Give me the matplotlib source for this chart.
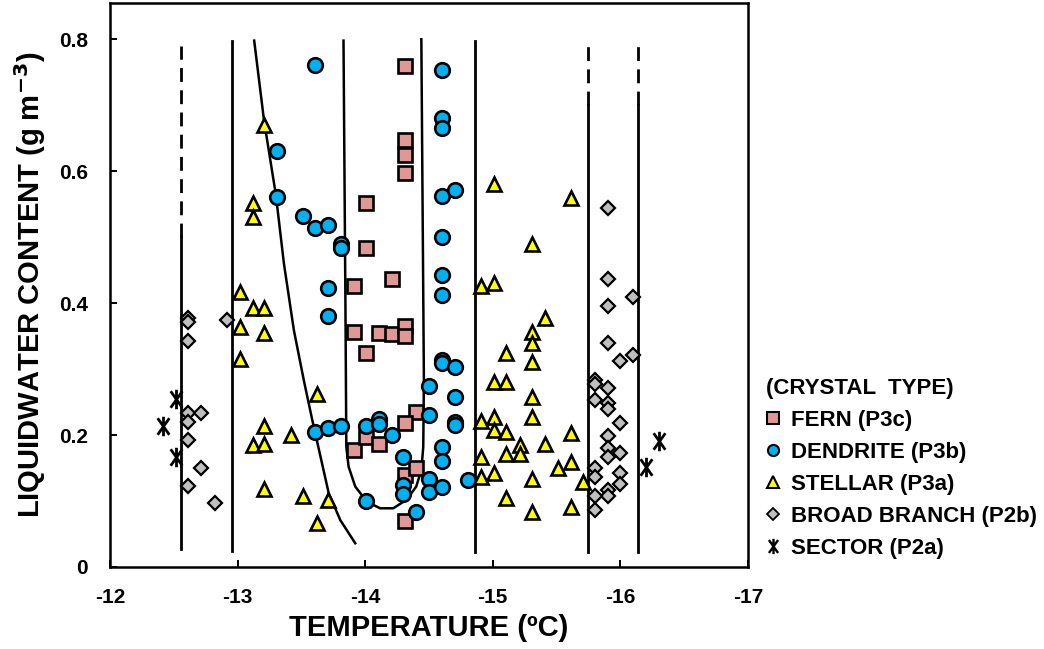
import matplotlib
matplotlib.use("Agg")
import matplotlib.pyplot as plt
import numpy as np
from matplotlib.path import Path
from matplotlib.lines import Line2D

plt.rcParams['font.family'] = ['Liberation Sans', 'DejaVu Sans']
plt.rcParams['font.weight'] = 'bold'

# ---- data (temperature in degC, LWC in g m^-3) ----
fern_t = [-14.31, -14.31, -14.31, -14.31, -14.01, -14.01, -13.91, -14.21,
          -13.91, -14.11, -14.21, -14.31, -14.31, -14.01, -14.40, -14.31,
          -13.91, -14.01, -14.11, -14.31, -14.40, -14.31]
fern_lwc = [0.759, 0.647, 0.625, 0.597, 0.552, 0.484, 0.426, 0.436,
            0.357, 0.355, 0.353, 0.365, 0.350, 0.325, 0.235, 0.218,
            0.177, 0.197, 0.187, 0.139, 0.150, 0.069]

dend_t = [-13.61, -14.60, -14.60, -14.60, -13.31, -13.31, -14.60, -14.70,
          -13.51, -13.61, -13.71, -13.81, -13.81, -14.60, -13.71, -14.60,
          -14.60, -13.71, -14.60, -14.60, -14.70, -14.50, -14.70, -14.50,
          -14.70, -14.70, -13.61, -13.71, -13.81, -14.01, -14.11, -14.11,
          -14.21, -14.01, -14.30, -14.30, -14.30, -14.40, -14.50, -14.50,
          -14.60, -14.60, -14.60, -14.805]
dend_lwc = [0.761, 0.754, 0.681, 0.665, 0.630, 0.561, 0.563, 0.572,
            0.532, 0.514, 0.519, 0.489, 0.484, 0.500, 0.423, 0.443,
            0.413, 0.380, 0.314, 0.309, 0.303, 0.274, 0.258, 0.230,
            0.220, 0.215, 0.205, 0.210, 0.214, 0.213, 0.225, 0.217,
            0.200, 0.100, 0.167, 0.124, 0.111, 0.083, 0.133, 0.113,
            0.182, 0.160, 0.122, 0.132]

stel_t = [-13.21, -13.12, -13.12, -13.02, -13.12, -13.21, -13.02, -13.21,
          -13.02, -13.62, -13.21, -13.12, -13.21, -13.415, -13.21, -13.51,
          -13.71, -13.62, -15.01, -15.61, -15.31, -14.91, -15.01, -15.41,
          -15.31, -15.31, -15.10, -15.31, -15.01, -15.10, -15.31, -15.31,
          -14.91, -15.01, -15.01, -15.10, -15.61, -15.21, -15.41, -15.10,
          -15.21, -14.91, -15.61, -15.51, -14.91, -15.01, -15.31, -15.71,
          -15.10, -15.61, -15.31]
stel_lwc = [0.670, 0.552, 0.531, 0.417, 0.393, 0.393, 0.364, 0.354,
            0.316, 0.262, 0.214, 0.185, 0.186, 0.200, 0.119, 0.108,
            0.101, 0.067, 0.581, 0.560, 0.490, 0.426, 0.431, 0.377,
            0.357, 0.339, 0.325, 0.311, 0.281, 0.281, 0.258, 0.228,
            0.222, 0.228, 0.207, 0.205, 0.203, 0.185, 0.187, 0.171,
            0.171, 0.167, 0.159, 0.150, 0.137, 0.142, 0.133, 0.129,
            0.104, 0.091, 0.084]

broad_t = [-12.615, -12.615, -12.615, -12.92, -12.615, -12.71, -12.615,
           -12.615, -12.71, -12.615, -12.82, -15.90, -15.90, -16.10,
           -15.90, -15.90, -16.00, -16.10, -15.80, -15.80, -15.90, -15.80,
           -15.90, -15.90, -16.00, -15.90, -15.90, -16.00, -15.90, -15.80,
           -15.80, -16.00, -16.00, -15.90, -15.90, -15.80, -15.80]
broad_lwc = [0.378, 0.372, 0.343, 0.374, 0.233, 0.233, 0.220,
             0.192, 0.150, 0.123, 0.097, 0.544, 0.436, 0.409,
             0.396, 0.340, 0.313, 0.321, 0.283, 0.278, 0.272, 0.253,
             0.248, 0.239, 0.219, 0.198, 0.181, 0.173, 0.167, 0.150,
             0.137, 0.143, 0.126, 0.116, 0.108, 0.107, 0.087]

sect_t = [-12.52, -12.415, -12.52, -16.30, -16.20]
sect_lwc = [0.255, 0.214, 0.166, 0.191, 0.152]

# habit boundaries: temperature, dashed top, dash/solid split, solid bottom
bound_t = [-12.555, -12.96, -14.86, -15.75, -16.14]
bound_dash_top = [0.79, None, None, 0.80, 0.80]
bound_split = [0.50, 0.797, 0.797, 0.70, 0.70]
bound_bottom = [0.027, 0.025, 0.023, 0.023, 0.023]

# left curve
curve1_t = [-13.13, -13.207, -13.30, -13.363, -13.441, -13.519, -13.585,
            -13.714, -13.805, -13.922]
curve1_lwc = [0.798, 0.677, 0.564, 0.460, 0.359, 0.283, 0.223,
              0.112, 0.071, 0.036]

# U-shaped curve
curve2_t = [-13.83, -13.845, -13.852, -13.87, -13.922, -14.013, -14.117,
            -14.22, -14.325, -14.40, -14.44, -14.455, -14.46, -14.44]
curve2_lwc = [0.798, 0.40, 0.182, 0.152, 0.122, 0.099, 0.089,
              0.089, 0.102, 0.122, 0.147, 0.182, 0.283, 0.800]

fig = plt.figure(figsize=(10.44, 6.49), dpi=100)
ax = fig.add_axes([110 / 1044, 1 - 567 / 649, (748 - 110) / 1044, (567 - 3) / 649])
ax.set_xlim(-12, -17)
ax.set_ylim(0, 0.855)

for t, dtop, split, bot in zip(bound_t, bound_dash_top, bound_split, bound_bottom):
    ax.plot([t, t], [bot, split], color='black', lw=2.0, zorder=2)
    if dtop is not None:
        ax.plot([t, t], [split, dtop], color='black', lw=2.0, ls=(0, (5, 3)), zorder=2)

ax.plot(curve1_t, curve1_lwc, color='black', lw=1.8, zorder=2)
ax.plot(curve2_t, curve2_lwc, color='black', lw=1.8, zorder=2)

# sector marker: X with vertical stroke
sector_marker = Path([(0, -1), (0, 1), (-0.6, -0.85), (0.6, 0.85), (-0.6, 0.85), (0.6, -0.85)],
                     [Path.MOVETO, Path.LINETO] * 3)

ax.plot(fern_t, fern_lwc, 's', ms=9.5, mfc='#E09896', mec='black', mew=1.9, zorder=3)
ax.plot(dend_t, dend_lwc, 'o', ms=10.5, mfc='#00B0F0', mec='black', mew=1.9, zorder=3)
ax.plot(stel_t, stel_lwc, '^', ms=10, mfc='#FFFF00', mec='black', mew=1.9, zorder=3)
ax.plot(broad_t, broad_lwc, 'D', ms=7.3, mfc='#BFBFBF', mec='black', mew=1.6, zorder=3)
ax.plot(sect_t, sect_lwc, ls='none', marker=sector_marker, ms=14, mec='black', mew=2.0, zorder=3)

ax.set_xticks([-12, -13, -14, -15, -16, -17])
ax.set_xticklabels(['-12', '-13', '-14', '-15', '-16', '-17'])
ax.set_yticks([0, 0.2, 0.4, 0.6, 0.8])
ax.set_yticklabels(['0', '0.2', '0.4', '0.6', '0.8'])
ax.tick_params(axis='both', direction='in', length=5, width=1.4, labelsize=15)
ax.tick_params(axis='y', pad=16)
ax.tick_params(axis='x', pad=15)
for sp in ax.spines.values():
    sp.set_linewidth(1.8)

ax.set_xlabel('TEMPERATURE (ºC)', fontsize=21, fontweight='bold', labelpad=5)
ax.set_ylabel('LIQUIDWATER CONTENT (g m$^{\\mathbf{-3}}$)', fontsize=21, fontweight='bold', labelpad=8)

handles = [
    Line2D([], [], ls='none', marker='s', ms=8, mfc='#E09896', mec='black', mew=1.5),
    Line2D([], [], ls='none', marker='o', ms=8, mfc='#00B0F0', mec='black', mew=1.5),
    Line2D([], [], ls='none', marker='^', ms=8, mfc='#FFFF00', mec='black', mew=1.5),
    Line2D([], [], ls='none', marker='D', ms=5.8, mfc='#BFBFBF', mec='black', mew=1.3),
    Line2D([], [], ls='none', marker=sector_marker, ms=11, mec='black', mew=1.7),
]
labels = ['FERN (P3c)', 'DENDRITE (P3b)', 'STELLAR (P3a)', 'BROAD BRANCH (P2b)', 'SECTOR (P2a)']
leg = fig.legend(handles, labels, title='(CRYSTAL  TYPE)', loc='upper left',
                 bbox_to_anchor=(750 / 1044, 1 - 362 / 649), frameon=False,
                 prop={'size': 16, 'weight': 'bold'},
                 title_fontproperties={'size': 16, 'weight': 'bold'},
                 alignment='left', handlelength=0.7, handletextpad=0.45,
                 labelspacing=0.5, borderpad=0.2)

fig.savefig('out.png', dpi=100)
